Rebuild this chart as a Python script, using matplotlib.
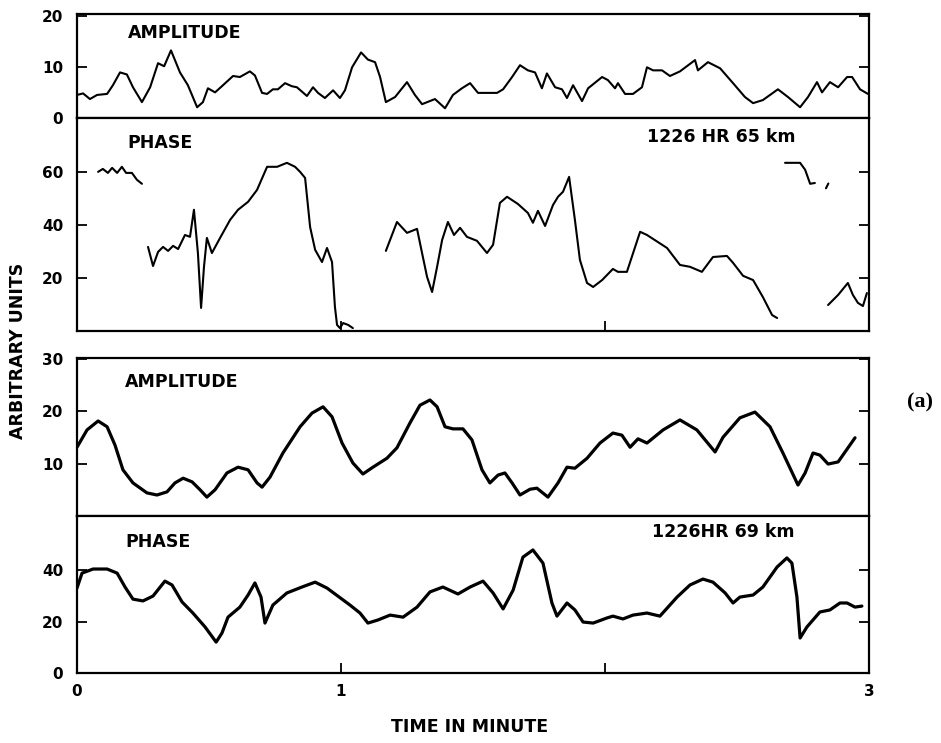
import matplotlib
matplotlib.use("Agg")
import matplotlib.pyplot as plt

# ---- data (time in minutes) ----
# 65 km amplitude
amp65_t = [0.000, 0.023, 0.049, 0.076, 0.114, 0.136, 0.163, 0.189, 0.212, 0.246,
           0.277, 0.307, 0.330, 0.356, 0.371, 0.390, 0.420, 0.455, 0.477, 0.496,
           0.523, 0.553, 0.591, 0.617, 0.655, 0.674, 0.701, 0.720, 0.742, 0.761,
           0.788, 0.814, 0.833, 0.871, 0.894, 0.913, 0.939, 0.970, 0.996, 1.015,
           1.042, 1.076, 1.102, 1.129, 1.148, 1.170, 1.205, 1.250, 1.280, 1.307,
           1.356, 1.394, 1.424, 1.458, 1.489, 1.519, 1.591, 1.614, 1.648, 1.678,
           1.708, 1.735, 1.761, 1.780, 1.811, 1.837, 1.856, 1.879, 1.913, 1.936,
           1.989, 2.011, 2.038, 2.049, 2.076, 2.106, 2.140, 2.159, 2.182, 2.216,
           2.246, 2.284, 2.341, 2.352, 2.390, 2.436, 2.485, 2.530, 2.561, 2.598,
           2.655, 2.693, 2.739, 2.769, 2.803, 2.822, 2.852, 2.883, 2.917, 2.936,
           2.966, 2.996]
amp65_v = [4.5, 4.8, 3.7, 4.5, 4.7, 6.4, 8.9, 8.5, 6.0, 3.1,
           6.0, 10.7, 10.1, 13.2, 11.3, 8.9, 6.4, 2.1, 3.1, 5.8,
           5.0, 6.4, 8.2, 8.0, 9.1, 8.3, 4.9, 4.7, 5.6, 5.6,
           6.8, 6.2, 6.0, 4.3, 6.0, 4.9, 3.9, 5.4, 3.9, 5.4,
           9.9, 12.8, 11.4, 10.9, 8.0, 3.1, 4.1, 7.0, 4.5, 2.7,
           3.7, 1.9, 4.5, 5.8, 6.8, 4.9, 4.9, 5.6, 8.0, 10.3,
           9.3, 8.9, 5.8, 8.7, 6.0, 5.6, 3.9, 6.4, 3.3, 5.8,
           8.0, 7.4, 5.8, 6.8, 4.7, 4.7, 6.0, 9.9, 9.3, 9.3,
           8.2, 9.1, 11.3, 9.3, 10.9, 9.7, 6.8, 4.1, 2.9, 3.5,
           5.6, 4.1, 2.1, 4.1, 7.0, 5.0, 7.0, 6.0, 8.0, 8.0,
           5.6, 4.7]

# 65 km phase (trace has gaps)
ph65_a_t = [0.080, 0.098, 0.117, 0.133, 0.152, 0.170, 0.186, 0.208, 0.227, 0.246]
ph65_a_v = [60.0, 61.1, 59.6, 61.5, 59.6, 61.9, 59.6, 59.6, 57.0, 55.5]

ph65_b_t = [0.269, 0.288, 0.307, 0.326, 0.345, 0.364, 0.383, 0.409, 0.428, 0.443,
            0.458, 0.470, 0.481, 0.492, 0.511, 0.542, 0.580, 0.610, 0.648, 0.682,
            0.720, 0.758, 0.795, 0.826, 0.845, 0.864, 0.883, 0.902, 0.928, 0.947,
            0.966, 0.977, 0.985, 0.996, 1.008, 1.027, 1.045]
ph65_b_v = [31.7, 24.5, 29.8, 31.7, 30.2, 32.1, 30.9, 36.2, 35.5, 45.7,
            29.4, 8.7, 24.2, 35.1, 29.4, 35.1, 41.9, 45.7, 48.7, 53.2,
            61.9, 61.9, 63.4, 61.9, 60.0, 57.7, 39.2, 30.6, 26.0, 31.3,
            26.0, 9.1, 2.3, 1.1, 3.0, 2.3, 1.1]

ph65_c_t = [1.170, 1.212, 1.250, 1.288, 1.307, 1.326, 1.345, 1.364, 1.383, 1.405,
            1.428, 1.451, 1.477, 1.515, 1.553, 1.576, 1.602, 1.629, 1.670, 1.708,
            1.727, 1.746, 1.773, 1.803, 1.822, 1.841, 1.864, 1.886, 1.905, 1.932,
            1.955, 1.989, 2.030, 2.049, 2.083, 2.133, 2.159, 2.235, 2.284, 2.322,
            2.367, 2.409, 2.462, 2.485, 2.523, 2.561, 2.598, 2.633, 2.652]
ph65_c_v = [30.2, 41.1, 37.0, 38.5, 29.4, 20.4, 14.7, 24.2, 34.3, 41.1,
            36.2, 38.9, 35.5, 34.0, 29.4, 32.5, 48.3, 50.6, 47.9, 44.5,
            40.8, 45.3, 39.6, 47.5, 50.6, 52.5, 58.1, 41.9, 26.8, 18.1,
            16.6, 19.2, 23.4, 22.3, 22.3, 37.4, 36.2, 31.3, 24.9, 24.2,
            22.3, 27.9, 28.3, 25.7, 20.8, 19.2, 12.8, 6.0, 4.9]

ph65_d_t = [2.682, 2.739, 2.758, 2.777, 2.795]
ph65_d_v = [63.4, 63.4, 60.8, 55.5, 55.8]

ph65_e_t = [2.837, 2.846]
ph65_e_v = [53.8, 55.6]

ph65_f_t = [2.845, 2.883, 2.920, 2.939, 2.958, 2.977, 2.992]
ph65_f_v = [9.8, 13.6, 18.1, 13.6, 10.6, 9.4, 14.3]

# 69 km amplitude
amp69_t = [0.000, 0.038, 0.080, 0.114, 0.144, 0.174, 0.212, 0.265, 0.303, 0.341,
           0.371, 0.402, 0.436, 0.466, 0.492, 0.523, 0.568, 0.610, 0.648, 0.682,
           0.701, 0.731, 0.780, 0.845, 0.890, 0.932, 0.966, 1.004, 1.045, 1.083,
           1.121, 1.174, 1.212, 1.261, 1.299, 1.337, 1.364, 1.394, 1.424, 1.462,
           1.496, 1.534, 1.564, 1.595, 1.621, 1.648, 1.678, 1.716, 1.742, 1.784,
           1.822, 1.856, 1.886, 1.932, 1.981, 2.030, 2.064, 2.095, 2.125, 2.159,
           2.220, 2.284, 2.348, 2.417, 2.447, 2.511, 2.568, 2.625, 2.674, 2.731,
           2.758, 2.788, 2.814, 2.845, 2.883, 2.947]
amp69_v = [13.1, 16.4, 18.1, 17.0, 13.5, 8.8, 6.3, 4.4, 4.0, 4.6,
           6.3, 7.2, 6.5, 5.0, 3.6, 5.0, 8.2, 9.3, 8.8, 6.3,
           5.5, 7.4, 12.0, 17.0, 19.6, 20.8, 18.9, 13.9, 10.1, 8.0,
           9.3, 11.0, 13.0, 17.7, 21.1, 22.1, 20.8, 17.0, 16.6, 16.6,
           14.5, 8.8, 6.3, 7.8, 8.2, 6.3, 4.0, 5.1, 5.3, 3.6,
           6.3, 9.3, 9.1, 11.0, 13.9, 15.8, 15.4, 13.1, 14.7, 13.9,
           16.4, 18.3, 16.4, 12.2, 15.0, 18.7, 19.8, 17.0, 12.0, 5.9,
           8.2, 12.0, 11.6, 9.9, 10.3, 14.9]

# 69 km phase
ph69_t = [0.000, 0.019, 0.061, 0.114, 0.152, 0.182, 0.212, 0.250, 0.288, 0.333,
          0.360, 0.398, 0.439, 0.485, 0.527, 0.549, 0.572, 0.617, 0.648, 0.674,
          0.697, 0.712, 0.742, 0.795, 0.852, 0.902, 0.947, 1.034, 1.072, 1.102,
          1.140, 1.186, 1.235, 1.288, 1.337, 1.386, 1.443, 1.489, 1.538, 1.576,
          1.614, 1.652, 1.689, 1.727, 1.765, 1.799, 1.818, 1.856, 1.886, 1.917,
          1.955, 2.008, 2.030, 2.068, 2.106, 2.159, 2.208, 2.273, 2.322, 2.371,
          2.409, 2.455, 2.485, 2.511, 2.561, 2.598, 2.652, 2.689, 2.708, 2.727,
          2.739, 2.765, 2.814, 2.852, 2.890, 2.917, 2.947, 2.973]
ph69_v = [33.0, 38.8, 40.4, 40.4, 38.8, 33.4, 28.7, 28.0, 29.9, 35.7,
          34.2, 27.6, 23.3, 17.9, 12.0, 15.5, 21.7, 25.6, 30.3, 35.0,
          29.5, 19.4, 26.4, 31.1, 33.4, 35.3, 33.0, 26.4, 23.3, 19.4,
          20.6, 22.5, 21.7, 25.6, 31.5, 33.4, 30.7, 33.4, 35.7, 31.1,
          24.9, 32.2, 45.0, 47.8, 42.7, 27.2, 22.1, 27.2, 24.5, 19.8,
          19.4, 21.4, 22.1, 21.0, 22.5, 23.3, 22.1, 29.5, 34.2, 36.5,
          35.3, 31.1, 27.2, 29.5, 30.3, 33.4, 41.2, 44.7, 42.7, 29.5,
          13.6, 17.9, 23.7, 24.5, 27.2, 27.2, 25.6, 26.0]

W, H = 941, 743
fig = plt.figure(figsize=(W / 100, H / 100), dpi=100)

def px_axes(top, bottom, left=77, right=869):
    # build an axes from pixel edges of the reference
    return fig.add_axes([left / W, 1 - bottom / H, (right - left) / W, (bottom - top) / H])

ax1 = px_axes(14, 118)
ax2 = px_axes(118, 331)
ax3 = px_axes(358, 516)
ax4 = px_axes(516, 673)

thin = dict(color="black", lw=1.5, solid_joinstyle="round", solid_capstyle="round")
thick = dict(color="black", lw=2.3, solid_joinstyle="round", solid_capstyle="round")

ax1.plot(amp65_t, amp65_v, **thin)
for t, v in [(ph65_a_t, ph65_a_v), (ph65_b_t, ph65_b_v), (ph65_c_t, ph65_c_v),
             (ph65_d_t, ph65_d_v), (ph65_e_t, ph65_e_v), (ph65_f_t, ph65_f_v)]:
    ax2.plot(t, v, **thin)
ax3.plot(amp69_t, amp69_v, **thick)
ax4.plot(ph69_t, ph69_v, **thick)

ax1.set_ylim(0, 20.3)
ax2.set_ylim(0, 80.3)
ax3.set_ylim(0, 30.1)
ax4.set_ylim(0, 61)

ax1.set_yticks([0, 10, 20])
ax2.set_yticks([20, 40, 60])
ax3.set_yticks([10, 20, 30])
ax4.set_yticks([0, 20, 40])

for ax in (ax1, ax2, ax3, ax4):
    ax.set_xlim(0, 3)
    for s in ax.spines.values():
        s.set_linewidth(1.6)
    ax.tick_params(axis="y", direction="in", left=True, right=True, length=7, width=1.3,
                   labelsize=11, pad=10)
    ax.tick_params(axis="x", direction="in", length=7, width=1.3, labelsize=11, pad=8)
    for lab in ax.get_yticklabels():
        lab.set_fontweight("bold")

ax1.set_xticks([])
ax3.set_xticks([])
ax2.set_xticks([1, 2])
ax2.set_xticklabels([])
ax4.set_xticks([0, 1, 2, 3])
ax4.set_xticklabels(["0", "1", "", "3"], fontweight="bold")

lab = dict(fontsize=12.5, fontweight="bold", va="center", ha="left")
ax1.text(0.064, 0.817, "AMPLITUDE", transform=ax1.transAxes, **lab)
ax2.text(0.064, 0.883, "PHASE", transform=ax2.transAxes, **lab)
ax2.text(0.72, 0.911, "1226 HR 65 km", transform=ax2.transAxes, **lab)
ax3.text(0.061, 0.848, "AMPLITUDE", transform=ax3.transAxes, **lab)
ax4.text(0.061, 0.834, "PHASE", transform=ax4.transAxes, **lab)
ax4.text(0.726, 0.898, "1226HR 69 km", transform=ax4.transAxes, **lab)

fig.text(18 / W, 1 - 351 / H, "ARBITRARY UNITS", rotation=90, fontsize=12.5,
         fontweight="bold", ha="center", va="center")
fig.text(470 / W, 1 - 727 / H, "TIME IN MINUTE", fontsize=12.5, fontweight="bold",
         ha="center", va="center")
fig.text(920 / W, 1 - 402 / H, "(a)", fontsize=16, fontweight="bold",
         family="Liberation Serif", ha="center", va="center")

fig.savefig("out.png", dpi=100)
